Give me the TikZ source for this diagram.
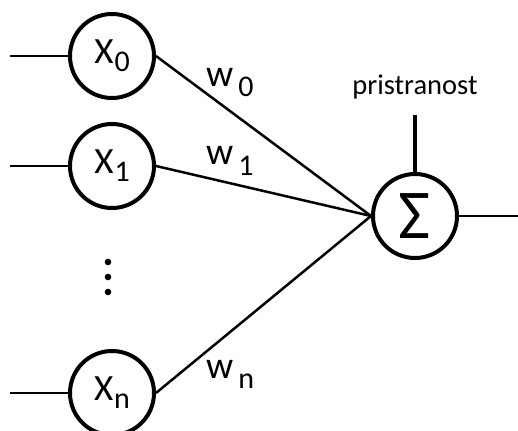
\documentclass[tikz,border=0pt]{standalone}
\usepackage{fontspec}
\setmainfont{Carlito}
\usetikzlibrary{positioning}
\tikzset{
  neuron/.style={draw, circle, line width=4pt, minimum size=84pt, inner sep=0pt,
    font=\fontsize{37}{37}\selectfont},
  wire/.style={line width=2.5pt},
  weight/.style={anchor=base west, inner sep=0pt, font=\fontsize{38}{38}\selectfont}
}
\newcommand{\lowidx}[2]{\raisebox{-#1}{\fontsize{30}{30}\selectfont #2}}

\begin{document}
\begin{tikzpicture}[x=1pt, y=-1pt]
  \useasboundingbox (0,0) rectangle (518,430);
  \clip (0,0) rectangle (518,430);
  %% input units
  \node[neuron] (x0) at (112,56) {X\hspace{1pt}\lowidx{8pt}{0}};
  \node[neuron] (x1) at (112,166) {X\hspace{1pt}\lowidx{8pt}{1}};
  \node[neuron] (xn) at (112,393) {X\hspace{1pt}\lowidx{8pt}{n}};
  %% dots between x1 and xn
  \foreach \y in {262,277,292}
    \fill (108,\y) circle (3.3pt);
  %% summation unit
  \node[neuron, font=\fontsize{70}{70}\selectfont] (sum) at (415,216) {Σ};
  %% free ends
  \coordinate (in0) at (10,56);
  \coordinate (in1) at (10,166);
  \coordinate (inn) at (10,393);
  \coordinate (bias) at (415,115);
  \coordinate (out) at (518,216);
  %% wires
  \draw[wire] (in0) -- (x0);
  \draw[wire] (in1) -- (x1);
  \draw[wire] (inn) -- (xn);
  \draw[wire] (x0.east) -- (sum.west);
  \draw[wire] (x1.east) -- (sum.west);
  \draw[wire] (xn.east) -- (sum.west);
  \draw[line width=4pt] (bias) -- (sum);
  \draw[wire] (sum) -- (out);
  %% weights and bias label
  \node[weight] (w0) at (206,87) {w\hspace{5pt}\lowidx{10pt}{0}};
  \node[weight] (w1) at (206,165) {w\hspace{5pt}\lowidx{10pt}{1}};
  \node[weight] (wn) at (206,378) {w\hspace{5pt}\lowidx{10pt}{n}};
  \node[font=\fontsize{28.5}{28.5}\selectfont] (bt) at (415,87) {pristranost};
\end{tikzpicture}
\end{document}
